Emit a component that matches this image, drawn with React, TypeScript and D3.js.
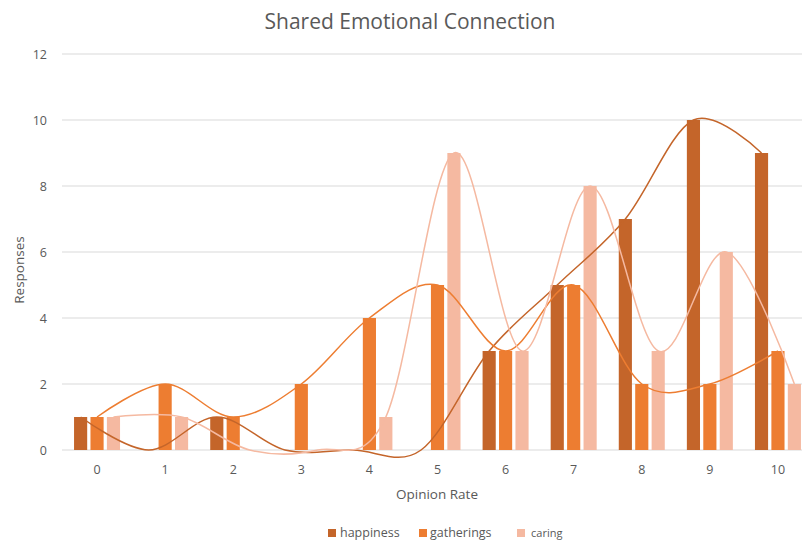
import React from 'react';
import * as d3 from 'd3';

const categories = ['0', '1', '2', '3', '4', '5', '6', '7', '8', '9', '10'];
const happiness = [1, 0, 1, 0, 0, 0, 3, 5, 7, 10, 9];
const gatherings = [1, 2, 1, 2, 4, 5, 3, 5, 2, 2, 3];
const caring = [1, 1, 0, 0, 1, 9, 3, 8, 3, 6, 2];
const yTicks = [0, 2, 4, 6, 8, 10, 12];

const seriesNames = ['happiness', 'gatherings', 'caring'];
const colors = ['#C4652A', '#ED7D31', '#F5B9A1'];

const W = 802;
const H = 545;
const font = "'Open Sans', sans-serif";

const App = () => {
  const series = [happiness, gatherings, caring];

  const x = d3.scaleBand().domain(categories).range([63, 812]).paddingInner(0).paddingOuter(0);
  const inner = d3.scaleBand().domain(seriesNames).range([0, 46]).paddingInner(0.2);
  const y = d3.scaleLinear().domain([0, 12]).range([450, 54]);
  const groupOffset = (x.bandwidth() - 46) / 2;

  return (
    <svg width={W} height={H} style={{ position: 'absolute', left: 0, top: 0, background: '#fff' }}>
      <text x={410} y={29} textAnchor="middle" fontFamily={font} fontSize={21} fill="#595959">
        Shared Emotional Connection
      </text>

      {yTicks.map(t => (
        <g key={t}>
          <line x1={62} x2={W} y1={y(t)} y2={y(t)} stroke="#D9D9D9" strokeWidth={1} />
          <text x={47} y={y(t) + 4.5} textAnchor="end" fontFamily={font} fontSize={12.5} fill="#595959">{t}</text>
        </g>
      ))}

      {series.map((vals, si) => (
        <g key={seriesNames[si]}>
          {vals.map((v, i) => (
            <rect
              key={i}
              x={x(categories[i])! + groupOffset + inner(seriesNames[si])!}
              y={y(v)}
              width={inner.bandwidth()}
              height={y(0) - y(v)}
              fill={colors[si]}
            />
          ))}
        </g>
      ))}

      {series.map((vals, si) => {
        const pts: [number, number][] = vals.map((v, i) => [
          x(categories[i])! + groupOffset + inner(seriesNames[si])! + inner.bandwidth() / 2,
          y(v),
        ]);
        const path = d3.line().curve(d3.curveCatmullRom.alpha(0))(pts);
        return (
          <path key={seriesNames[si]} d={path || ''} fill="none" stroke={colors[si]} strokeWidth={1.5} />
        );
      })}

      {categories.map(c => (
        <text key={c} x={x(c)! + x.bandwidth() / 2} y={474} textAnchor="middle" fontFamily={font} fontSize={12.5} fill="#595959">{c}</text>
      ))}

      <text x={437} y={499} textAnchor="middle" fontFamily={font} fontSize={13.5} fill="#595959">Opinion Rate</text>
      <text transform="translate(24,270) rotate(-90)" textAnchor="middle" fontFamily={font} fontSize={13.5} fill="#595959">Responses</text>

      <g fontFamily={font} fill="#595959">
        <rect x={328} y={529} width={8} height={8} fill={colors[0]} />
        <text x={340} y={537} fontSize={12.5}>happiness</text>
        <rect x={419} y={529} width={8} height={8} fill={colors[1]} />
        <text x={430} y={537} fontSize={12.5}>gatherings</text>
        <rect x={517} y={529} width={8} height={8} fill={colors[2]} />
        <text x={531} y={537} fontSize={11}>caring</text>
      </g>
    </svg>
  );
};

export default App;
